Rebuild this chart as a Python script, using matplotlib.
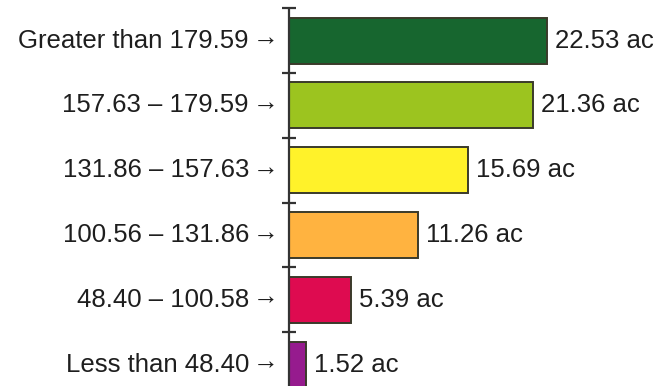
import matplotlib
matplotlib.use("Agg")
import matplotlib.pyplot as plt
import numpy as np

# Acreage per elevation class
categories = [
    "Greater than 179.59",
    "157.63 \u2013 179.59",
    "131.86 \u2013 157.63",
    "100.56 \u2013 131.86",
    "48.40 \u2013 100.58",
    "Less than 48.40",
]
acres = [22.53, 21.36, 15.69, 11.26, 5.39, 1.52]
colors = ["#17662f", "#9cc41f", "#fff22a", "#ffb340", "#de0b50", "#961b8e"]

plt.rcParams["font.family"] = ["Liberation Sans", "DejaVu Sans"]

fig = plt.figure(figsize=(6.59, 3.86), dpi=100)
ax = fig.add_axes([0, 0, 1, 1])

px = 11.44  # pixels per acre
ax.set_xlim(-289 / px, 370 / px)
ax.set_ylim(5.33, -0.6265)
ax.axis("off")

y = np.arange(len(categories))
ax.barh(y, acres, height=0.71, color=colors, edgecolor="#3a3a2a",
        linewidth=1.4, zorder=2)

# vertical axis with tick marks between the classes
bottom = 5.4
ax.vlines(0, -0.5, bottom, color="#333333", linewidth=1.6, zorder=3)
bounds = np.arange(len(categories)) - 0.5
ax.hlines(bounds, -7 / px, 7 / px, color="#333333", linewidth=1.6, zorder=3)

txt = "#1e1e1e"
fs = 18.5
for yi, name, v in zip(y, categories, acres):
    ax.text(-40 / px, yi, name, ha="right", va="center",
            fontsize=fs, color=txt)
    ax.text(-11 / px, yi - 0.03, "\u2192", ha="right", va="center",
            fontsize=fs, color=txt)
    ax.text(v + 8 / px, yi, f"{v:.2f} ac", ha="left", va="center",
            fontsize=fs, color=txt)

fig.savefig("out.png", dpi=100)
